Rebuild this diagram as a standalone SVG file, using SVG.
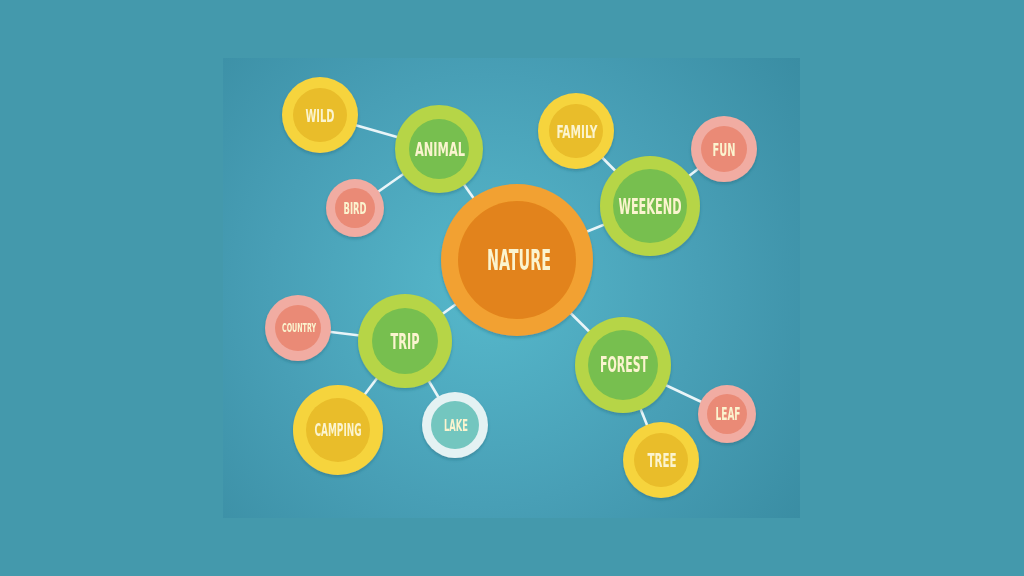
<svg xmlns="http://www.w3.org/2000/svg" width="1024" height="576" viewBox="0 0 1024 576">
<defs>
<radialGradient id="panelGrad" gradientUnits="userSpaceOnUse" cx="485" cy="290" r="390">
<stop offset="0" stop-color="#56b8cb"/>
<stop offset="0.55" stop-color="#489fb6"/>
<stop offset="1" stop-color="#3a8da3"/>
</radialGradient>
<filter id="shadow" x="-20%" y="-20%" width="140%" height="150%">
<feDropShadow dx="0" dy="2" stdDeviation="1.5" flood-color="#1d5a6b" flood-opacity="0.35"/>
</filter>
<style>
.t{font-family:"DejaVu Sans Condensed","Liberation Sans",sans-serif;font-weight:bold;fill:#fbf4cf;text-anchor:middle}
.yo{fill:#f6d43e}.yi{fill:#e9bd2a}
.go{fill:#b6d546}.gi{fill:#77bf4f}
.po{fill:#f1aca2}.pi{fill:#ea8a76}
.oo{fill:#f2a131}.oi{fill:#e2831b}
.lo{fill:#e4f2f3}.li{fill:#73c6bf}
.link{stroke:#e9f5f8;stroke-width:2.6}
</style>
</defs>
<rect width="1024" height="576" fill="#4499ac"/>
<rect x="223" y="58" width="577" height="460" fill="url(#panelGrad)"/>
<g id="connectors" class="link">
<line x1="517" y1="260" x2="439" y2="149"/>
<line x1="439" y1="149" x2="320" y2="115"/>
<line x1="439" y1="149" x2="355" y2="208"/>
<line x1="517" y1="260" x2="650" y2="206"/>
<line x1="650" y1="206" x2="576" y2="131"/>
<line x1="650" y1="206" x2="724" y2="149"/>
<line x1="517" y1="260" x2="405" y2="341"/>
<line x1="405" y1="341" x2="298" y2="328"/>
<line x1="405" y1="341" x2="338" y2="430"/>
<line x1="405" y1="341" x2="455" y2="425"/>
<line x1="517" y1="260" x2="623" y2="365"/>
<line x1="623" y1="365" x2="727" y2="414"/>
<line x1="623" y1="365" x2="661" y2="460"/>
</g>
<g id="nature" filter="url(#shadow)"><circle class="oo" cx="517" cy="260" r="76"/><circle class="oi" cx="517" cy="260" r="59"/><text class="t" x="519" y="270" font-size="28" textLength="64" lengthAdjust="spacingAndGlyphs">NATURE</text></g>
<g id="animal" filter="url(#shadow)"><circle class="go" cx="439" cy="149" r="44"/><circle class="gi" cx="439" cy="149" r="30"/><text class="t" x="440" y="156" font-size="19" textLength="50" lengthAdjust="spacingAndGlyphs">ANIMAL</text></g>
<g id="wild" filter="url(#shadow)"><circle class="yo" cx="320" cy="115" r="38"/><circle class="yi" cx="320" cy="115" r="27"/><text class="t" x="320" y="122" font-size="18" textLength="29" lengthAdjust="spacingAndGlyphs">WILD</text></g>
<g id="bird" filter="url(#shadow)"><circle class="po" cx="355" cy="208" r="29"/><circle class="pi" cx="355" cy="208" r="20"/><text class="t" x="355" y="214" font-size="15" textLength="23" lengthAdjust="spacingAndGlyphs">BIRD</text></g>
<g id="weekend" filter="url(#shadow)"><circle class="go" cx="650" cy="206" r="50"/><circle class="gi" cx="650" cy="206" r="37"/><text class="t" x="650" y="214" font-size="22" textLength="63" lengthAdjust="spacingAndGlyphs">WEEKEND</text></g>
<g id="family" filter="url(#shadow)"><circle class="yo" cx="576" cy="131" r="38"/><circle class="yi" cx="576" cy="131" r="27"/><text class="t" x="577" y="138" font-size="18" textLength="41" lengthAdjust="spacingAndGlyphs">FAMILY</text></g>
<g id="fun" filter="url(#shadow)"><circle class="po" cx="724" cy="149" r="33"/><circle class="pi" cx="724" cy="149" r="23"/><text class="t" x="724" y="156" font-size="18" textLength="23" lengthAdjust="spacingAndGlyphs">FUN</text></g>
<g id="trip" filter="url(#shadow)"><circle class="go" cx="405" cy="341" r="47"/><circle class="gi" cx="405" cy="341" r="33"/><text class="t" x="405" y="349" font-size="22" textLength="29" lengthAdjust="spacingAndGlyphs">TRIP</text></g>
<g id="country" filter="url(#shadow)"><circle class="po" cx="298" cy="328" r="33"/><circle class="pi" cx="298" cy="328" r="23"/><text class="t" x="299" y="332" font-size="12" textLength="34" lengthAdjust="spacingAndGlyphs">COUNTRY</text></g>
<g id="camping" filter="url(#shadow)"><circle class="yo" cx="338" cy="430" r="45"/><circle class="yi" cx="338" cy="430" r="32"/><text class="t" x="338" y="436" font-size="18" textLength="47" lengthAdjust="spacingAndGlyphs">CAMPING</text></g>
<g id="lake" filter="url(#shadow)"><circle class="lo" cx="455" cy="425" r="33"/><circle class="li" cx="455" cy="425" r="24"/><text class="t" x="456" y="431" font-size="16" textLength="24" lengthAdjust="spacingAndGlyphs">LAKE</text></g>
<g id="forest" filter="url(#shadow)"><circle class="go" cx="623" cy="365" r="48"/><circle class="gi" cx="623" cy="365" r="35"/><text class="t" x="624" y="372" font-size="21" textLength="48" lengthAdjust="spacingAndGlyphs">FOREST</text></g>
<g id="leaf" filter="url(#shadow)"><circle class="po" cx="727" cy="414" r="29"/><circle class="pi" cx="727" cy="414" r="20"/><text class="t" x="728" y="420" font-size="17" textLength="25" lengthAdjust="spacingAndGlyphs">LEAF</text></g>
<g id="tree" filter="url(#shadow)"><circle class="yo" cx="661" cy="460" r="38"/><circle class="yi" cx="661" cy="460" r="27"/><text class="t" x="662" y="467" font-size="19" textLength="29" lengthAdjust="spacingAndGlyphs">TREE</text></g>
</svg>
